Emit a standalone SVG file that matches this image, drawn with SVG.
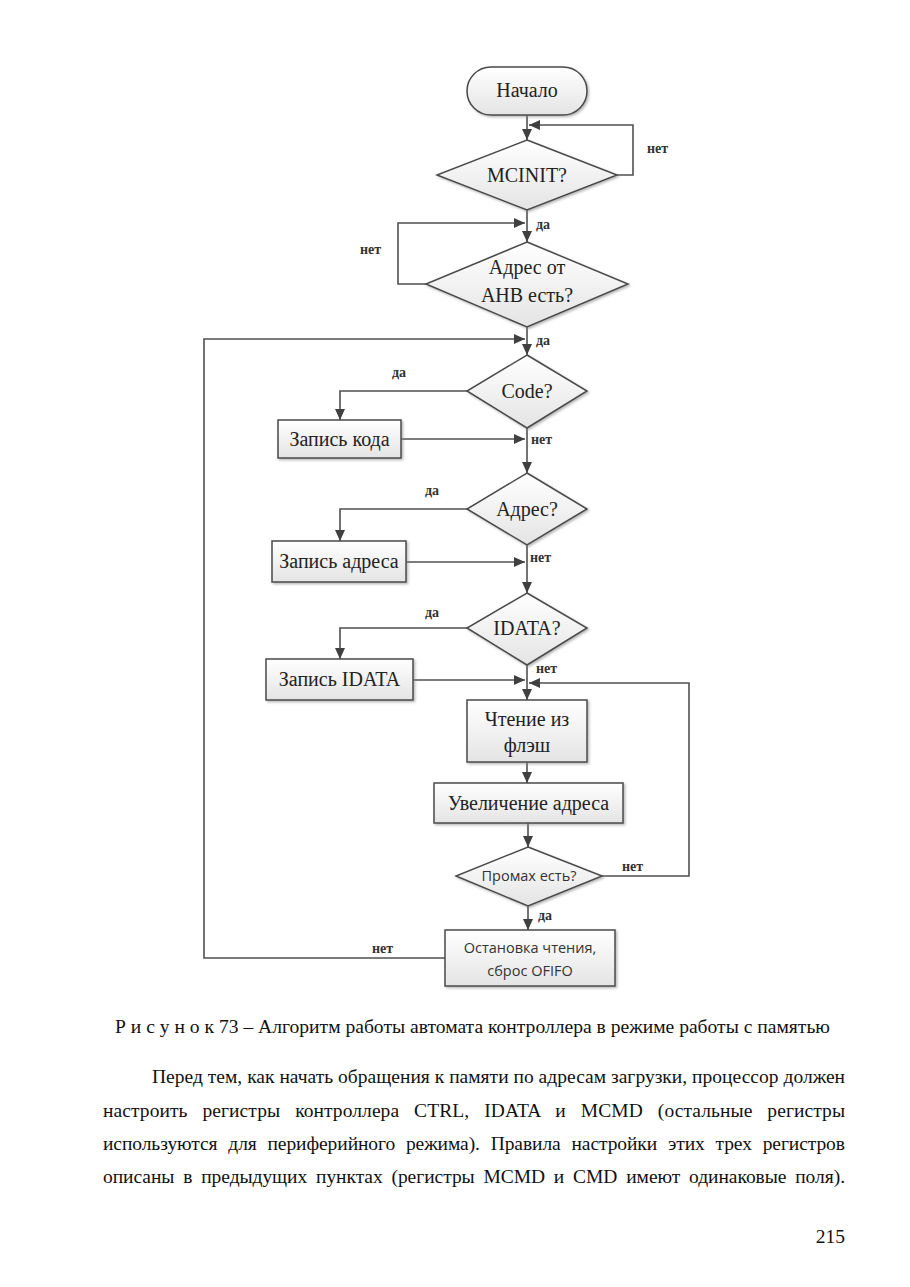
<svg xmlns="http://www.w3.org/2000/svg" width="910" height="1287" viewBox="0 0 910 1287">
<style>
.bg{fill:#ffffff}
.node{fill:url(#g);stroke:#4a4a4a;stroke-width:1.5;filter:url(#sh)}
.t{font-family:"Liberation Serif","Times New Roman",serif;font-size:20px;fill:#222;text-anchor:middle}
.s{font-family:"Open Sans","Liberation Sans",sans-serif;font-size:14.5px;fill:#333;text-anchor:middle}
.lbl{font-family:"Liberation Serif","Times New Roman",serif;font-size:14px;font-weight:bold;fill:#333}
.c{fill:none;stroke:#505050;stroke-width:1.6}
.a{marker-end:url(#ar)}
.p{font-family:"Liberation Serif","Times New Roman",serif;font-size:19.5px;fill:#111}
</style>
<defs>
<linearGradient id="g" x1="0" y1="0" x2="0" y2="1">
<stop offset="0" stop-color="#ffffff"/>
<stop offset="1" stop-color="#e4e4e4"/>
</linearGradient>
<filter id="sh" x="-10%" y="-10%" width="130%" height="140%">
<feDropShadow dx="1.5" dy="1.5" stdDeviation="1" flood-color="#888" flood-opacity="0.6"/>
</filter>
<marker id="ar" markerUnits="userSpaceOnUse" markerWidth="12" markerHeight="10" refX="11" refY="5" orient="auto">
<path d="M0,0 L11,5 L0,10 z" fill="#404040"/>
</marker>
</defs>
<rect class="bg" x="0" y="0" width="910" height="1287"/>

<g id="connectors">
<path class="c a" d="M527,115 V140"/>
<path class="c a" d="M617,175 H633 V125 H529"/>
<path class="c a" d="M527,210 V242"/>
<path class="c a" d="M426,284 H398 V223 H525"/>
<path class="c a" d="M527,327 V355"/>
<path class="c a" d="M445,958 H204 V339 H525"/>
<path class="c a" d="M467,391 H340 V420"/>
<path class="c a" d="M401,439 H525"/>
<path class="c a" d="M527,428 V473"/>
<path class="c a" d="M467,509 H340 V541"/>
<path class="c a" d="M406,562 H525"/>
<path class="c a" d="M527,545 V593"/>
<path class="c a" d="M467,628 H340 V659"/>
<path class="c a" d="M413,680 H525"/>
<path class="c a" d="M527,665 V700"/>
<path class="c a" d="M602,876 H689 V683 H529"/>
<path class="c a" d="M527,762 V783"/>
<path class="c a" d="M528,823 V847"/>
<path class="c a" d="M528,906 V930"/>
<text class="lbl" x="647" y="153">нет</text>
<text class="lbl" x="536" y="229">да</text>
<text class="lbl" x="360" y="254">нет</text>
<text class="lbl" x="536" y="345">да</text>
<text class="lbl" x="392" y="377">да</text>
<text class="lbl" x="531" y="444">нет</text>
<text class="lbl" x="425" y="495">да</text>
<text class="lbl" x="530" y="562">нет</text>
<text class="lbl" x="425" y="617">да</text>
<text class="lbl" x="536" y="673">нет</text>
<text class="lbl" x="622" y="871">нет</text>
<text class="lbl" x="538" y="920">да</text>
<text class="lbl" x="372" y="953">нет</text>
</g>

<g id="start">
<rect class="node" x="467" y="67" width="120" height="48" rx="24"/>
<text class="t" x="527" y="97">Начало</text>
</g>
<g id="mcinit">
<polygon class="node" points="527,140 617,175 527,210 437,175"/>
<text class="t" x="527" y="182">MCINIT?</text>
</g>
<g id="ahb">
<polygon class="node" points="527,242 628,284 527,327 426,284"/>
<text class="t" x="527" y="274">Адрес от</text>
<text class="t" x="527" y="302">АНВ есть?</text>
</g>
<g id="code">
<polygon class="node" points="527,355 587,391 527,428 467,391"/>
<text class="t" x="527" y="398">Code?</text>
</g>
<g id="write-code">
<rect class="node" x="278" y="420" width="123" height="38"/>
<text class="t" x="339.5" y="446">Запись кода</text>
</g>
<g id="addr">
<polygon class="node" points="527,473 587,509 527,545 467,509"/>
<text class="t" x="527" y="516">Адрес?</text>
</g>
<g id="write-addr">
<rect class="node" x="272" y="541" width="134" height="41"/>
<text class="t" x="339" y="568">Запись адреса</text>
</g>
<g id="idata">
<polygon class="node" points="527,593 587,628 527,665 467,628"/>
<text class="t" x="527" y="635">IDATA?</text>
</g>
<g id="write-idata">
<rect class="node" x="266" y="659" width="147" height="41"/>
<text class="t" x="339.5" y="686">Запись IDATA</text>
</g>
<g id="read">
<rect class="node" x="467" y="700" width="120" height="62"/>
<text class="t" x="527" y="726">Чтение из</text>
<text class="t" x="527" y="752">флэш</text>
</g>
<g id="inc">
<rect class="node" x="434" y="783" width="189" height="40"/>
<text class="t" x="528.5" y="810">Увеличение адреса</text>
</g>
<g id="miss">
<polygon class="node" points="528,847 602,876 528,906 456,876"/>
<text class="s" x="529" y="881">Промах есть?</text>
</g>
<g id="stop">
<rect class="node" x="445" y="930" width="170" height="56"/>
<text class="s" x="530" y="953">Остановка чтения,</text>
<text class="s" x="530" y="976">сброс OFIFO</text>
</g>

<g id="page-text">
<text class="p" x="115" y="1033" font-size="18.5" textLength="715" lengthAdjust="spacingAndGlyphs">Р и с у н о к  73 – Алгоритм работы автомата контроллера в режиме работы с памятью</text>
<text class="p" x="152" y="1083" textLength="693" lengthAdjust="spacing">Перед тем, как начать обращения к памяти по адресам загрузки, процессор должен</text>
<text class="p" x="103" y="1117" word-spacing="10" textLength="742" lengthAdjust="spacing">настроить регистры контроллера CTRL, IDATA и MCMD (остальные регистры</text>
<text class="p" x="103" y="1150" word-spacing="6" textLength="742" lengthAdjust="spacing">используются для периферийного режима). Правила настройки этих трех регистров</text>
<text class="p" x="103" y="1183" word-spacing="4" textLength="742" lengthAdjust="spacing">описаны в предыдущих пунктах (регистры MCMD и CMD имеют одинаковые поля).</text>
<text class="p" x="845" y="1243" text-anchor="end">215</text>
</g>
</svg>
